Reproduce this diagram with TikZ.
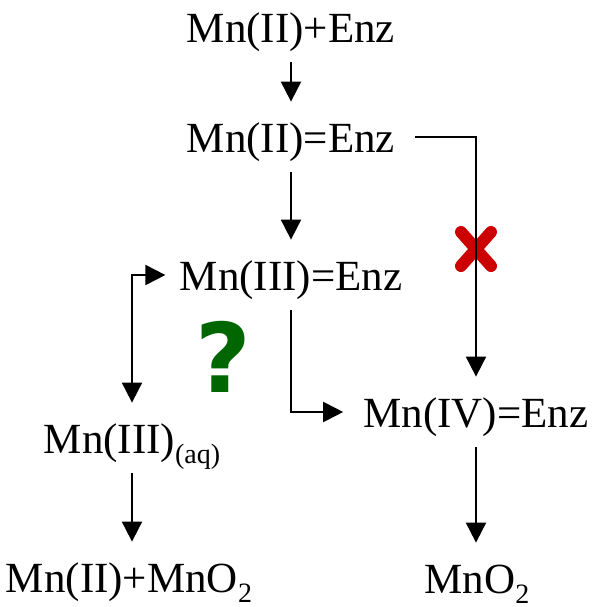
\documentclass[tikz,border=0pt]{standalone}
\usepackage{fontspec}
\setmainfont{Liberation Serif}
\newfontfamily\qfont{DejaVu Sans}
\usetikzlibrary{arrows.meta, positioning}
\definecolor{crossred}{RGB}{204,0,0}
\definecolor{qgreen}{RGB}{0,102,0}
\newcommand{\chsub}[1]{\raisebox{-5pt}{\fontsize{14pt}{14pt}\selectfont #1}}

\begin{document}
\begin{tikzpicture}[
    x=0.5pt, y=-0.5pt,
    species/.style = {inner xsep=10pt, inner ysep=0pt, text height=25pt, text depth=10pt, anchor=base, font=\fontsize{21.5pt}{26pt}\selectfont},
    react/.style = {line width=1pt, ->},
    blocked/.style = {line width=6pt, line cap=round, draw=crossred},
    >={Triangle[length=10pt, width=10pt]}]

    \useasboundingbox (0,0) rectangle (591,607);

    \node[species] (n1) at (291,42) {Mn(II)+Enz};
    \node[species] (n2) at (291,152) {Mn(II)=Enz};
    \node[species, inner xsep=7pt] (n3) at (291,290) {Mn(III)=Enz};
    \node[species] (n4) at (476,427) {Mn(IV)=Enz};
    \node[species] (n5) at (132,453) {Mn(III)\chsub{(aq)}};
    \node[species] (n6) at (129,592) {Mn(II)+MnO\chsub{2}};
    \node[species] (n7) at (477,593) {MnO\chsub{2}};
    \node[anchor=base, inner sep=0pt, text=qgreen, font=\qfont\bfseries\fontsize{48pt}{48pt}\selectfont] (qm) at (223,392) {?};

    % blocked route
    \coordinate (xmark) at (476,249);
    \draw[blocked] (xmark) ++(-15,-17) -- ++(30,34) (xmark) ++(-15,17) -- ++(30,-34);

    \draw[react] (n1) -- (n2);
    \draw[react] (n2) -- (n3);
    \draw[react] (n2.east) -| (n4.north);
    \draw[react] (n3.south) |- (n4.west);
    \draw[react, <->] (n5.north) |- (n3.west);
    \draw[react] (n5.south) -- (n5.south |- n6.north);
    \draw[react] (n4.south) -- (n4.south |- n7.north);
\end{tikzpicture}
\end{document}
